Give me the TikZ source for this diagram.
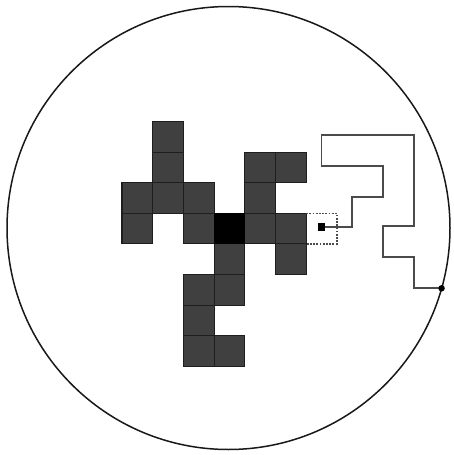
\documentclass[tikz,border=0pt]{standalone}
\definecolor{cellgray}{RGB}{64,64,64}
\definecolor{celledge}{RGB}{30,30,30}
\definecolor{pathgray}{RGB}{75,75,75}
\tikzset{
  cellbox/.style={fill=cellgray, draw=celledge, line width=1.1pt},
  corebox/.style={fill=black, draw=black, line width=1.1pt},
  walk/.style={draw=pathgray, line width=1.8pt, line join=miter},
  probe/.style={draw=pathgray, line width=1.6pt, dash pattern=on 1.8pt off 1.4pt},
}
\begin{document}
\begin{tikzpicture}[x=1pt,y=-1pt]
\useasboundingbox (0,0) rectangle (454,455);
\fill[white] (0,0) rectangle (454,455);
\draw[line width=1.5pt, black!90] (228.5,228) circle[radius=221.5];
\begin{scope}[shift={(122,121.5)}, x=30.7pt, y=-30.6pt]
  \foreach \i/\j in {1/0, 1/1, 4/1, 5/1, 0/2, 1/2, 2/2, 4/2, 0/3, 2/3, 4/3, 5/3, 5/4, 3/4, 2/5, 3/5, 2/6, 2/7, 3/7}
    \draw[cellbox] (\i,\j) rectangle ++(1,1);
  \draw[corebox] (3,3) rectangle ++(1,1);
  \draw[probe] (6,3) -- (7,3) -- (7,4) -- (6,4);
  \coordinate (endpt) at (10.41,5.45);
  \draw[walk] (6.5,3.45) -- (7.5,3.45) -- (7.5,2.47) -- (8.5,2.47) -- (8.5,1.45)
    -- (6.5,1.45) -- (6.5,0.44) -- (9.5,0.44) -- (9.5,3.42) -- (8.5,3.42)
    -- (8.5,4.42) -- (9.5,4.42) -- (9.5,5.45) -- (endpt);
  \node[fill=black, inner sep=0pt, minimum size=7.5pt] (start) at (6.5,3.45) {};
  \node[fill=black, circle, inner sep=0pt, minimum size=6.5pt] (enddot) at (endpt) {};
\end{scope}
\end{tikzpicture}
\end{document}
